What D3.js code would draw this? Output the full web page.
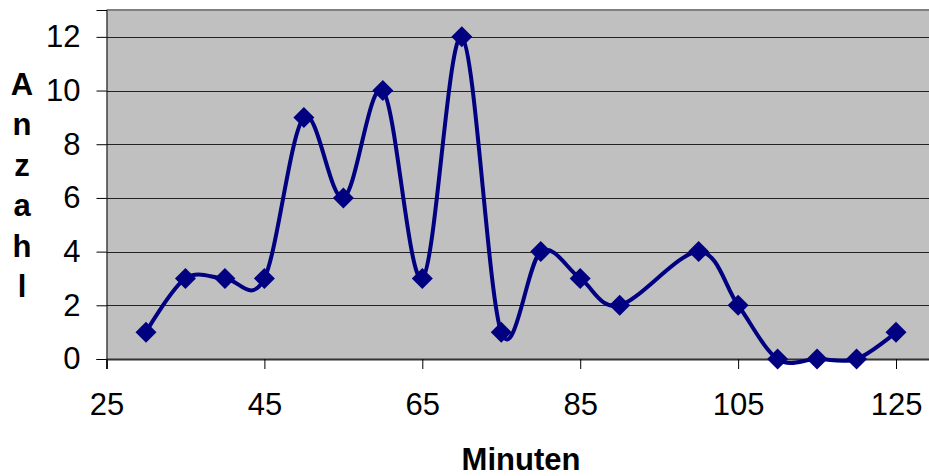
<!DOCTYPE html>
<html><head><meta charset="utf-8">
<script src="https://cdn.jsdelivr.net/npm/d3@7"></script>
<style>html,body{margin:0;padding:0;background:#fff;overflow:hidden}</style>
</head><body>
<script>
const minutes = [30,35,40,45,50,55,60,65,70,75,80,85,90,100,105,110,115,120,125];
const counts  = [1,3,3,3,9,6,10,3,12,1,4,3,2,4,2,0,0,0,1];
const xTicks = [25,45,65,85,105,125];
const yTicks = [0,2,4,6,8,10,12];
const yTitle = ["A","n","z","a","h","l"];
const xTitle = "Minuten";

(function(){
const W=929,H=476;
const svg=d3.select("body").append("svg").attr("width",W).attr("height",H);
const pL=106.5, pT=10, pB=359, pR=935.5;
const x=d3.scaleLinear().domain([25,130]).range([pL,pR]);
const y=d3.scaleLinear().domain([0,13]).range([pB,pT]);
const font="'Liberation Sans', Arial, sans-serif";
const fs=31;

svg.append("rect").attr("x",pL).attr("y",pT).attr("width",pR-pL).attr("height",pB-pT).attr("fill","#c0c0c0");
svg.append("g").selectAll("line").data(yTicks.filter(d=>d>0)).join("line")
  .attr("x1",pL).attr("x2",pR).attr("y1",d=>Math.round(y(d))+0.5).attr("y2",d=>Math.round(y(d))+0.5)
  .attr("stroke","#222").attr("stroke-width",1);
svg.append("line").attr("x1",pL).attr("x2",pR).attr("y1",pT).attr("y2",pT).attr("stroke","#808080").attr("stroke-width",2);

const yAxis=d3.axisLeft(y).tickValues(yTicks).tickSize(10).tickPadding(16).tickFormat(d3.format("d"));
const gy=svg.append("g").attr("transform",`translate(${pL},0)`).call(yAxis);
gy.selectAll("text").attr("font-family",font).attr("font-size",fs).attr("fill","#000");
gy.selectAll("line,path").attr("stroke","#000");

const xAxis=d3.axisBottom(x).tickValues(xTicks).tickSize(10).tickPadding(24).tickFormat(d3.format("d"));
const gx=svg.append("g").attr("transform",`translate(0,${pB})`).call(xAxis);
gx.selectAll("text").attr("font-family",font).attr("font-size",fs).attr("fill","#000");
gx.selectAll("line,path").attr("stroke","#000");
gx.select("path").attr("stroke","#333").attr("stroke-width",2);

const pts=minutes.map((m,i)=>[x(m),y(counts[i])]);
svg.append("path").attr("d",d3.line().curve(d3.curveCatmullRom.alpha(0))(pts))
  .attr("fill","none").attr("stroke","#000080").attr("stroke-width",4).attr("stroke-linejoin","round");
const r=10.5;
svg.append("g").selectAll("path").data(pts).join("path")
  .attr("d",d=>`M${d[0]},${d[1]-r}L${d[0]+r},${d[1]}L${d[0]},${d[1]+r}L${d[0]-r},${d[1]}Z`)
  .attr("fill","#000080");

svg.append("g").selectAll("text").data(yTitle).join("text")
  .attr("x",22).attr("y",(d,i)=>95+i*40.4).attr("text-anchor","middle")
  .attr("font-family",font).attr("font-weight","bold").attr("font-size",fs).text(d=>d);
svg.append("text").attr("x",521).attr("y",470).attr("text-anchor","middle")
  .attr("font-family",font).attr("font-weight","bold").attr("font-size",fs).text(xTitle);
})();
</script>
</body></html>
